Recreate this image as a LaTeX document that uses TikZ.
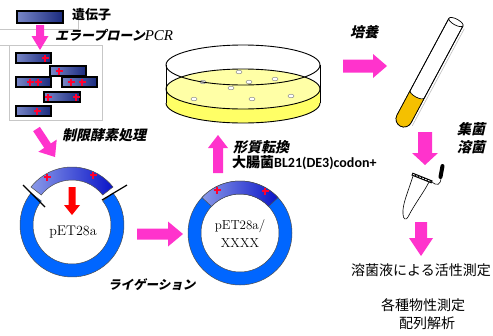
\documentclass[tikz,border=0pt]{standalone}
\usepackage{fontspec}
\newfontfamily\jpfont{Noto Sans CJK JP}
\newfontfamily\jpslant{Noto Sans CJK JP}[FakeSlant=0.22, BoldFeatures={FakeSlant=0.22}]
\newfontfamily\pcrfont{Liberation Serif}
\newfontfamily\cbfont{Carlito}

\definecolor{magentaarrow}{HTML}{FF33CC}
\definecolor{ringblue}{HTML}{0066FF}
\definecolor{insertlight}{HTML}{8A9AE8}
\definecolor{insertdark}{HTML}{0A14C8}
\definecolor{fraglight}{HTML}{7886C6}
\definecolor{fragdark}{HTML}{1A2A7E}
\definecolor{plusred}{HTML}{FF0030}
\definecolor{agartop}{HTML}{FFFFA6}
\definecolor{agarside}{HTML}{FFFF66}
\definecolor{culture}{HTML}{F5C000}

\tikzset{
	arrowbody/.style={fill=magentaarrow},
	pics/fatarrow/.style n args={4}{code={
		\path[arrowbody] (0,-#2) -- ({#1-#4},-#2) -- ({#1-#4},-#3) -- (#1,0)
			-- ({#1-#4},#3) -- ({#1-#4},#2) -- (0,#2) -- cycle;
	}},
	pics/plusmark/.style={code={
		\draw[plusred, line width=1.3pt] (-3.5,0) -- (3.5,0) (0,-3.5) -- (0,3.5);
	}},
	frag/.style={draw=black, line width=1.1pt, left color=fraglight, right color=fragdark,
		minimum height=10pt, inner sep=0pt},
	ring/.style={draw=black!70, line width=0.5pt, fill=ringblue},
	insert/.style={draw=black!70, line width=0.5pt, left color=insertlight, right color=insertdark},
	label jp/.style={font=\jpfont\bfseries\fontsize{14}{16}\selectfont, inner sep=0pt, anchor=west},
	label it/.style={font=\jpslant\bfseries\fontsize{14}{16}\selectfont, inner sep=0pt, anchor=west},
	label plain/.style={font=\jpfont\fontsize{14}{16}\selectfont, inner sep=0pt},
	colony/.style={draw=black!45, fill=white, line width=0.5pt},
	frame/.style={draw=black!22, line width=0.7pt}
}

\begin{document}
\begin{tikzpicture}[x=1pt, y=-1pt]
	\useasboundingbox (0,0) rectangle (493,335);

	% gene and the error-prone PCR library
	\draw[frame] (78,16) -- (78,29) -- (0,29);
	\draw[frame] (0,45) -- (102,45) -- (102,120) -- (9,120) -- (9,45);
	\node[frag, minimum width=46, minimum height=12] (gene) at (40,17) {};
	\node[label jp, font=\jpfont\bfseries\fontsize{13}{15}\selectfont] (gene label) at (72,15) {遺伝子};
	\pic[rotate=-90] at (40,25) {fatarrow={25}{4}{8.5}{14}};
	\node[label it, font=\jpslant\bfseries\fontsize{13}{15}\selectfont] (pcr label) at (55,35)
		{エラープローン{\pcrfont\itshape\mdseries\fontsize{15}{15}\selectfont PCR}};
	\foreach \x/\y/\w [count=\i] in {33.5/58/35, 68/71/36, 33.5/82/35, 79.5/82/35, 62/97/36, 33.5/111/35}
		\node[frag, minimum width=\w] (frag\i) at (\x,\y) {};
	\foreach \x/\y in {45/58, 59/71, 30/82, 38/82, 71/82, 82/82, 48/97, 76/97, 37/111}
		\pic at (\x,\y) {plusmark};

	% digestion and pET28a
	\pic[rotate=-56.5] at (36.5,129) {fatarrow={33.6}{4}{11}{13.6}};
	\node[label it] (digest label) at (62,135) {制限酵素処理};
	\begin{scope}[shift={(72,225)}]
		\draw[ring] (-38:52) arc[start angle=-38, end angle=218, radius=52]
			-- (218:39) arc[start angle=218, end angle=-38, radius=39] -- cycle;
	\end{scope}
	\draw[line width=1.2pt] (23,185) -- (45,207);
	\draw[line width=1.2pt] (102,200) -- (127,185);
	\begin{scope}[shift={(72,219)}]
		\draw[insert] (-142:52) arc[start angle=-142, end angle=-38, radius=52]
			-- (-38:39) arc[start angle=-38, end angle=-142, radius=39] -- cycle;
	\end{scope}
	\pic at (47,177) {plusmark};
	\pic at (93,175) {plusmark};
	\pic[rotate=-90, arrowbody/.style={fill=red}] at (72,187) {fatarrow={28}{3.5}{8}{10}};
	\node[font=\fontsize{14}{16}\selectfont] (vector) at (73,232) {pET28a};

	% ligation
	\pic at (137,234) {fatarrow={46}{5.5}{12.5}{15}};
	\node[label it, font=\jpslant\bfseries\fontsize{12.5}{15}\selectfont] (ligation label) at (108,285) {ライゲーション};

	% recombinant plasmid
	\draw[ring, even odd rule] (240,233) circle[radius=52] (240,233) circle[radius=39];
	\begin{scope}[shift={(240,233)}]
		\draw[insert] (-137:52) arc[start angle=-137, end angle=-43, radius=52]
			-- (-43:39) arc[start angle=-43, end angle=-137, radius=39] -- cycle;
	\end{scope}
	\pic at (217,190) {plusmark};
	\pic at (265,191) {plusmark};
	\node[align=center, font=\fontsize{13}{18}\selectfont] (recombinant) at (240,234) {pET28a/\\XXXX};

	% transformation
	\pic[rotate=90] at (218,173) {fatarrow={38}{5}{10}{13}};
	\node[label it] (transform label) at (233,147) {形質転換};
	\node[label jp] (host label) at (232,163) {大腸菌{\cbfont\bfseries BL21(DE3)codon+}};

	% plate with colonies
	\fill[agarside] (166,89) -- (166,103) arc[start angle=180, end angle=0, x radius=77, y radius=20]
		-- (320,89) arc[start angle=0, end angle=180, x radius=77, y radius=20] -- cycle;
	\draw[line width=0.9pt, fill=agartop] (243,89) ellipse[x radius=77, y radius=20];
	\foreach \x/\y in {239/72, 203/82, 249/82, 275/79, 231/88, 194/99, 252/99, 291/96}
		\draw[colony] (\x,\y) ellipse[x radius=3, y radius=1.8];
	\draw[line width=0.9pt] (166,103) arc[start angle=180, end angle=0, x radius=77, y radius=20];
	\draw[line width=0.9pt] (166,65) -- (166,103) (320,65) -- (320,103);
	\draw[line width=0.9pt] (243,65) ellipse[x radius=77, y radius=20];

	% culture tube
	\pic at (343,66) {fatarrow={44}{6.5}{12}{14}};
	\node[label it] (culture label) at (350,32) {培養};
	\begin{scope}[shift={(404,119)}, rotate=-28.2]
		\draw[black!25, line width=0.6pt] (10.5,-108) -- (10.5,2);
		\draw[line width=0.7pt, fill=white] (-8,-110) -- (-8,0) arc[start angle=180, end angle=0, radius=8] -- (8,-110);
		\fill[culture] (8,-28) arc[start angle=0, end angle=180, x radius=8, y radius=3]
			-- (-8,0) arc[start angle=180, end angle=0, radius=8] -- cycle;
		\draw[line width=0.7pt] (-8,-110) -- (-8,0) arc[start angle=180, end angle=0, radius=8] -- (8,-110);
		\draw[line width=0.7pt] (8,-28) arc[start angle=0, end angle=180, x radius=8, y radius=3];
		\draw[line width=0.7pt, fill=white] (0,-110) ellipse[x radius=8, y radius=3];
	\end{scope}

	% harvest and lysis
	\pic[rotate=-90] at (425,132) {fatarrow={33}{7}{13}{12}};
	\node[label it] (harvest label) at (457,129) {集菌};
	\node[label it] (lysis label) at (457,147) {溶菌};
	\draw[line width=0.6pt] (413,176) .. controls (408,192) and (402,205) .. (403,214)
		.. controls (403,219) and (406,221) .. (408,217)
		.. controls (414,205) and (424,192) .. (429,182);
	\draw[line width=0.6pt] (431,181) .. controls (437,187) and (441,185) .. (441,177);
	\draw[line width=3pt] (412,174) -- (432,182);
	\draw[white, line width=0.7pt, dash pattern=on 2pt off 1.2pt] (413,174.4) -- (431,181.6);
	\draw[line width=4pt, line cap=round] (440.5,177) -- (442.5,166);

	% assays
	\pic[rotate=-90] at (421,222) {fatarrow={34}{6}{12}{18}};
	\node[label plain] (activity) at (421,270) {溶菌液による活性測定};
	\node[label plain] (properties) at (423,305) {各種物性測定};
	\node[label plain] (sequencing) at (427,323) {配列解析};
\end{tikzpicture}
\end{document}
